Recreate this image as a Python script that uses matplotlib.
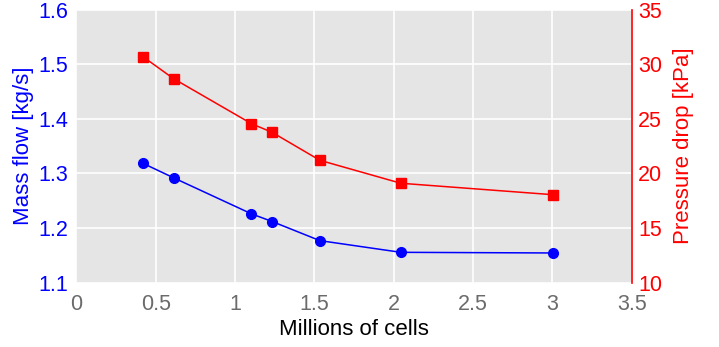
import matplotlib
matplotlib.use("Agg")
import matplotlib.pyplot as plt

# Mesh refinement study: cell count vs. mass flow and pressure drop
cells_millions = [0.42, 0.613, 1.104, 1.234, 1.535, 2.045, 3.006]
mass_flow = [1.3185, 1.292, 1.226, 1.212, 1.177, 1.1556, 1.1544]
pressure_drop = [30.68, 28.67, 24.55, 23.76, 21.2, 19.1, 18.05]

x_ticks = [0, 0.5, 1, 1.5, 2, 2.5, 3, 3.5]
x_tick_labels = ["0", "0.5", "1", "1.5", "2", "2.5", "3", "3.5"]
left_ticks = [1.1, 1.2, 1.3, 1.4, 1.5, 1.6]
right_ticks = [10, 15, 20, 25, 30, 35]

plt.rcParams["font.family"] = ["Liberation Sans", "DejaVu Sans"]

W, H = 719, 347
fig = plt.figure(figsize=(W / 100, H / 100), dpi=100)
ax = fig.add_axes([76.3 / W, 1 - 282.7 / H, (631.7 - 76.3) / W, (282.7 - 9.5) / H])
ax2 = ax.twinx()

ax.set_facecolor("#E5E5E5")
ax.set_axisbelow(True)
ax.grid(True, color="white", linewidth=1.2)
for s in ax.spines.values():
    s.set_visible(False)
for s in ax2.spines.values():
    s.set_visible(False)
ax2.spines["right"].set_visible(True)
ax2.spines["right"].set_color("red")
ax2.spines["right"].set_linewidth(1.2)

ax.plot(cells_millions, mass_flow, color="blue", marker="o", markersize=7, linewidth=1.1)
ax2.plot(cells_millions, pressure_drop, color="red", marker="s", markersize=6.5, linewidth=1.1)

ax.set_xlim(0, 3.5)
ax.set_ylim(1.1, 1.6)
ax2.set_ylim(10, 35)
ax.set_xticks(x_ticks)
ax.set_xticklabels(x_tick_labels)
ax.set_yticks(left_ticks)
ax.set_yticklabels([f"{v:.1f}" for v in left_ticks])
ax2.set_yticks(right_ticks)

ax.tick_params(axis="x", length=0, labelsize=15.5, colors="#6b6b6b", pad=8)
ax.tick_params(axis="y", length=0, labelsize=15.5, colors="blue", pad=6)
ax2.tick_params(axis="y", length=0, labelsize=15.5, colors="red", pad=4.5)

ax.set_xlabel("Millions of cells", fontsize=16, color="black", labelpad=3)
ax.set_ylabel("Mass flow [kg/s]", fontsize=16, color="blue", labelpad=3)
ax2.set_ylabel("Pressure drop [kPa]", fontsize=16, color="red", labelpad=8)

fig.savefig("out.png", dpi=100)
